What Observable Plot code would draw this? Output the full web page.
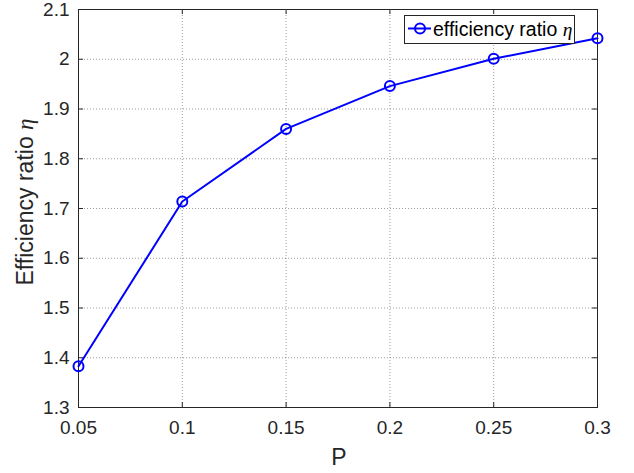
<!DOCTYPE html>
<html>
<head>
<meta charset="utf-8">
<script src="https://cdn.jsdelivr.net/npm/d3@7"></script>
<script src="https://cdn.jsdelivr.net/npm/@observablehq/plot@0.6"></script>
<style>
  html, body { margin: 0; padding: 0; background: #fff; }
  svg { display: block; }
</style>
</head>
<body>
<div id="chart"></div>
<script>
const P = [0.05, 0.1, 0.15, 0.2, 0.25, 0.3];
const eta = [1.383, 1.714, 1.860, 1.946, 2.001, 2.042];
const xTicks = [0.05, 0.1, 0.15, 0.2, 0.25, 0.3];
const yTicks = [1.3, 1.4, 1.5, 1.6, 1.7, 1.8, 1.9, 2, 2.1];
const seriesName = "efficiency ratio ";
const xLabel = "P";
const yLabel = "Efficiency ratio ";

const data = P.map((p, i) => ({P: p, eta: eta[i]}));
const axisColor = "#262626";
const font = "'Liberation Sans', Arial, Helvetica, sans-serif";

const xDom = [0.05, 0.3], yDom = [1.3, 2.1];
const tx = (xDom[1] - xDom[0]) * 5 / 519;
const ty = (yDom[1] - yDom[0]) * 5 / 398;

const chart = Plot.plot({
  width: 634,
  height: 473,
  marginLeft: 78,
  marginRight: 37,
  marginTop: 9,
  marginBottom: 66,
  style: {fontFamily: font, fontSize: "19px", background: "#fff"},
  x: {domain: xDom, ticks: xTicks, label: null},
  y: {domain: yDom, ticks: yTicks, label: null},
  marks: [
    Plot.gridX(xTicks, {stroke: axisColor, strokeOpacity: 0.45, strokeDasharray: "1,2", strokeWidth: 1}),
    Plot.gridY(yTicks, {stroke: axisColor, strokeOpacity: 0.45, strokeDasharray: "1,2", strokeWidth: 1}),
    Plot.ruleX(xTicks, {y1: yDom[0], y2: yDom[0] + ty, stroke: axisColor}),
    Plot.ruleX(xTicks, {y1: yDom[1], y2: yDom[1] - ty, stroke: axisColor}),
    Plot.ruleY(yTicks, {x1: xDom[0], x2: xDom[0] + tx, stroke: axisColor}),
    Plot.ruleY(yTicks, {x1: xDom[1], x2: xDom[1] - tx, stroke: axisColor}),
    Plot.frame({stroke: axisColor, strokeWidth: 1}),
    Plot.axisX(xTicks, {tickSize: 0, tickPadding: 13, fill: axisColor, tickFormat: d => String(d), label: null}),
    Plot.axisY(yTicks, {tickSize: 0, tickPadding: 9, fill: axisColor, tickFormat: d => String(d), label: null}),
    Plot.line(data, {x: "P", y: "eta", stroke: "#0000ff", strokeWidth: 2}),
    Plot.dot(data, {x: "P", y: "eta", r: 5, stroke: "#0000ff", strokeWidth: 2, fill: "none"})
  ]
});

document.getElementById("chart").appendChild(chart);

// Axis labels and legend
const svg = d3.select(chart);
const etaFont = "'Liberation Serif', 'DejaVu Serif', serif";

svg.append("text")
  .attr("x", 339).attr("y", 465)
  .attr("text-anchor", "middle")
  .style("font-size", "23px").style("font-family", font).attr("fill", axisColor)
  .text(xLabel);

const yl = svg.append("text")
  .attr("transform", "translate(33,202) rotate(-90)")
  .attr("text-anchor", "middle")
  .style("font-size", "23px").style("font-family", font).attr("fill", axisColor);
yl.append("tspan").text(yLabel);
yl.append("tspan").style("font-family", etaFont).style("font-style", "italic").text("η");

const lg = svg.append("g");
lg.append("rect")
  .attr("x", 404.5).attr("y", 15.5).attr("width", 170).attr("height", 28)
  .attr("fill", "#fff").attr("stroke", axisColor).attr("stroke-width", 1);
lg.append("line")
  .attr("x1", 408).attr("x2", 431).attr("y1", 28.5).attr("y2", 28.5)
  .attr("stroke", "#0000ff").attr("stroke-width", 2);
lg.append("circle")
  .attr("cx", 420).attr("cy", 28.5).attr("r", 5)
  .attr("stroke", "#0000ff").attr("stroke-width", 2).attr("fill", "none");
const lt = lg.append("text")
  .attr("x", 433).attr("y", 36)
  .attr("text-anchor", "start")
  .style("font-size", "19.5px").style("font-family", font).attr("fill", "#000");
lt.append("tspan").text(seriesName);
lt.append("tspan").style("font-family", etaFont).style("font-style", "italic").text("η");
</script>
</body>
</html>
